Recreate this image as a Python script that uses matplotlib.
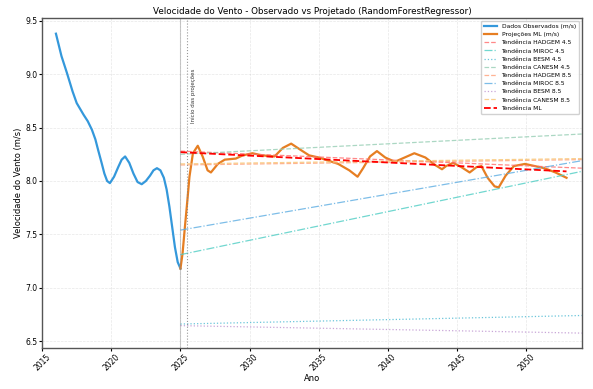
import matplotlib.pyplot as plt
import numpy as np

# observed wind speed (m/s)
anos_obs = [2016.0, 2016.4, 2016.8, 2017.2, 2017.5, 2018.0, 2018.3, 2018.6, 2018.85, 2019.05,
            2019.3, 2019.5, 2019.7, 2019.9, 2020.2, 2020.5, 2020.75, 2021.0, 2021.3, 2021.6,
            2021.9, 2022.2, 2022.5, 2022.8, 2023.05, 2023.3, 2023.55, 2023.8, 2024.0, 2024.2,
            2024.4, 2024.6, 2024.8, 2025.0]
vento_obs = [9.38, 9.17, 9.01, 8.84, 8.73, 8.62, 8.56, 8.48, 8.39, 8.29,
             8.17, 8.07, 8.00, 7.98, 8.04, 8.13, 8.20, 8.23, 8.17, 8.07,
             7.99, 7.97, 8.00, 8.05, 8.10, 8.12, 8.10, 8.03, 7.92, 7.76,
             7.57, 7.38, 7.24, 7.18]

# ML projection (m/s)
anos_ml = [2025.0, 2025.15, 2025.3, 2025.5, 2025.65, 2025.9, 2026.25, 2026.6, 2026.96, 2027.2,
           2027.7, 2028.2, 2029.0, 2029.5, 2030.2, 2030.9, 2031.8, 2032.4, 2033.0, 2033.7,
           2034.3, 2035.0, 2035.7, 2036.4, 2037.2, 2037.8, 2038.2, 2038.7, 2039.2, 2039.8,
           2040.5, 2041.2, 2041.9, 2042.7, 2043.4, 2043.9, 2044.2, 2044.7, 2045.3, 2045.9,
           2046.4, 2046.75, 2047.2, 2047.7, 2048.0, 2048.5, 2049.1, 2049.9, 2050.6, 2051.3,
           2052.1, 2052.9]
vento_ml = [7.18, 7.32, 7.54, 7.82, 8.04, 8.26, 8.33, 8.23, 8.10, 8.08,
            8.16, 8.20, 8.21, 8.24, 8.26, 8.24, 8.23, 8.31, 8.35, 8.29,
            8.24, 8.22, 8.19, 8.16, 8.10, 8.04, 8.12, 8.23, 8.28, 8.22,
            8.18, 8.22, 8.26, 8.22, 8.15, 8.11, 8.14, 8.17, 8.13, 8.08,
            8.13, 8.14, 8.03, 7.95, 7.94, 8.05, 8.14, 8.16, 8.14, 8.12,
            8.08, 8.03]

# linear trends per scenario: value at start and end of the projection window
cenarios = ['HADGEM 4.5', 'MIROC 4.5', 'BESM 4.5', 'CANESM 4.5',
            'HADGEM 8.5', 'MIROC 8.5', 'BESM 8.5', 'CANESM 8.5']
tend_ini = [8.28, 7.31, 6.66, 8.25, 8.15, 7.54, 6.645, 8.16]
tend_fim = [8.12, 8.09, 6.74, 8.44, 8.20, 8.19, 6.575, 8.21]
ano_ini, ano_fim = 2025, 2054

ml_ini, ml_fim = 8.27, 8.09
ml_ano_fim = 2052.9

cores = ['#FF6B6B', '#4ECDC4', '#45B7D1', '#96CEB4',
         '#FFA07A', '#5DADE2', '#BB8FCE', '#F8C471']
estilos = ['--', '-.', ':', '--', '--', '-.', ':', '--']

fig, ax = plt.subplots(figsize=(5.93, 3.89), dpi=100)
fig.subplots_adjust(left=0.071, right=0.981, bottom=0.105, top=0.954)

ax.plot(anos_obs, vento_obs, color='#3498DB', linewidth=1.6, label='Dados Observados (m/s)')
ax.plot(anos_ml, vento_ml, color='#E67E22', linewidth=1.6, label='Projeções ML (m/s)')

for nome, v0, v1, cor, ls in zip(cenarios, tend_ini, tend_fim, cores, estilos):
    ax.plot([ano_ini, ano_fim], [v0, v1], color=cor, linestyle=ls, linewidth=0.9,
            alpha=0.8, label=f'Tendência {nome}')

ax.plot([ano_ini, ml_ano_fim], [ml_ini, ml_fim], color='red', linestyle='--',
        linewidth=1.3, label='Tendência ML')

ax.axvline(2025, color='gray', linestyle='-', linewidth=0.8, alpha=0.4)
ax.axvline(2025.5, color='gray', linestyle=':', linewidth=0.8, alpha=0.8)
ax.text(2025.75, 8.8, 'Início das projeções', rotation=90, fontsize=4,
        va='center', ha='left', color='#333333')

ax.set_xlim(2015, 2054)
ax.set_ylim(6.434, 9.528)
ax.set_xticks(np.arange(2015, 2051, 5))
ax.set_yticks([6.5, 7.0, 7.5, 8.0, 8.5, 9.0, 9.5])
ax.tick_params(axis='x', labelrotation=45, labelsize=5.5, length=2, pad=1)
ax.tick_params(axis='y', labelsize=5.5, length=2, pad=1)
for lbl in ax.get_xticklabels():
    lbl.set_ha('center')

ax.grid(True, linestyle='--', linewidth=0.5, alpha=0.3)
for s in ax.spines.values():
    s.set_color('#555555')
    s.set_linewidth(1.0)

ax.set_title('Velocidade do Vento - Observado vs Projetado (RandomForestRegressor)', fontsize=6.3, pad=3)
ax.set_xlabel('Ano', fontsize=6, labelpad=1)
ax.set_ylabel('Velocidade do Vento (m/s)', fontsize=6, labelpad=2)

ax.legend(loc='upper right', fontsize=4.3, framealpha=0.9, handlelength=2.2,
          labelspacing=0.5, borderpad=0.5)

plt.savefig('out.png', dpi=100)
